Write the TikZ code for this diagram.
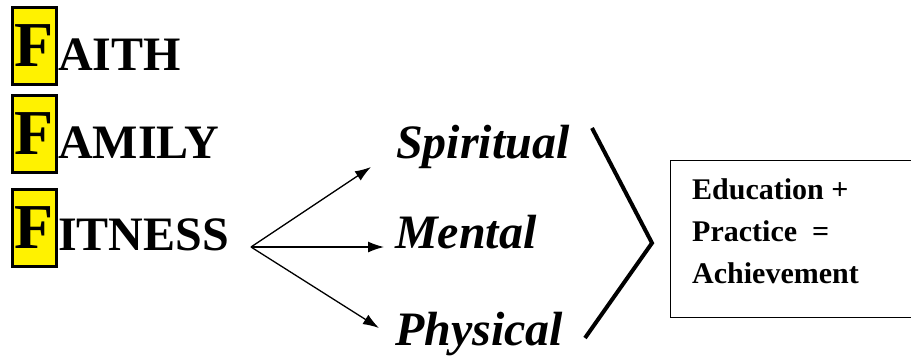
\documentclass[tikz,border=0pt]{standalone}
\usepackage{fontspec}
\setmainfont{Liberation Serif}
\usetikzlibrary{arrows.meta,positioning,calc}

\begin{document}
\begin{tikzpicture}[x=1pt,y=-1pt,
    initial/.style={draw=black, line width=3.5pt, fill=yellow, inner sep=0pt,
      minimum width=44pt, minimum height=77pt, font=\fontsize{64}{64}\selectfont\bfseries},
    word/.style={anchor=base west, inner sep=0pt, font=\fontsize{48}{48}\selectfont\bfseries},
    aspect/.style={anchor=base west, inner sep=0pt, font=\fontsize{48}{48}\selectfont\bfseries\itshape},
    branch/.style={-{Latex[length=16pt,width=11pt]}, line width=1.3pt},
    summary/.style={draw=black, line width=1.3pt, anchor=north west, inner sep=0pt,
      minimum width=245pt, minimum height=157pt}]

\useasboundingbox (0,0) rectangle (911,360);

% the three F words
\node[initial] (f1) at (34.5,46) {F};
\node[initial] (f2) at (34.5,134) {F};
\node[initial] (f3) at (34.5,228) {F};
\node[word] (faith) at (58,70) {AITH};
\node[word] (family) at (58,158) {AMILY};
\node[word] (fitness) at (58,250) {ITNESS};

% fan of arrows
\coordinate (src) at (251,247);
\coordinate (toS) at (371,167);
\coordinate (toM) at (384,247);
\coordinate (toP) at (379,328);
\draw[branch] (src) -- (toS);
\draw[branch] (src) -- (toM);
\draw[branch] (src) -- (toP);

\node[aspect] (spiritual) at (396,158) {Spiritual};
\node[aspect] (mental) at (395,248) {Mental};
\node[aspect] (physical) at (395,345) {Physical};

% chevron
\coordinate (c1) at (592,128);
\coordinate (c2) at (652,243);
\coordinate (c3) at (585,338);
\draw[line width=4pt] (c1) -- (c2) -- (c3);

% result box
\node[summary] (result) at (670,160) {};
\node[anchor=base west, inner sep=0pt, align=left,
  font=\fontsize{30}{42}\selectfont\bfseries] (formula) at (692,283)
  {Education +\\Practice \ =\\Achievement};
\end{tikzpicture}
\end{document}
